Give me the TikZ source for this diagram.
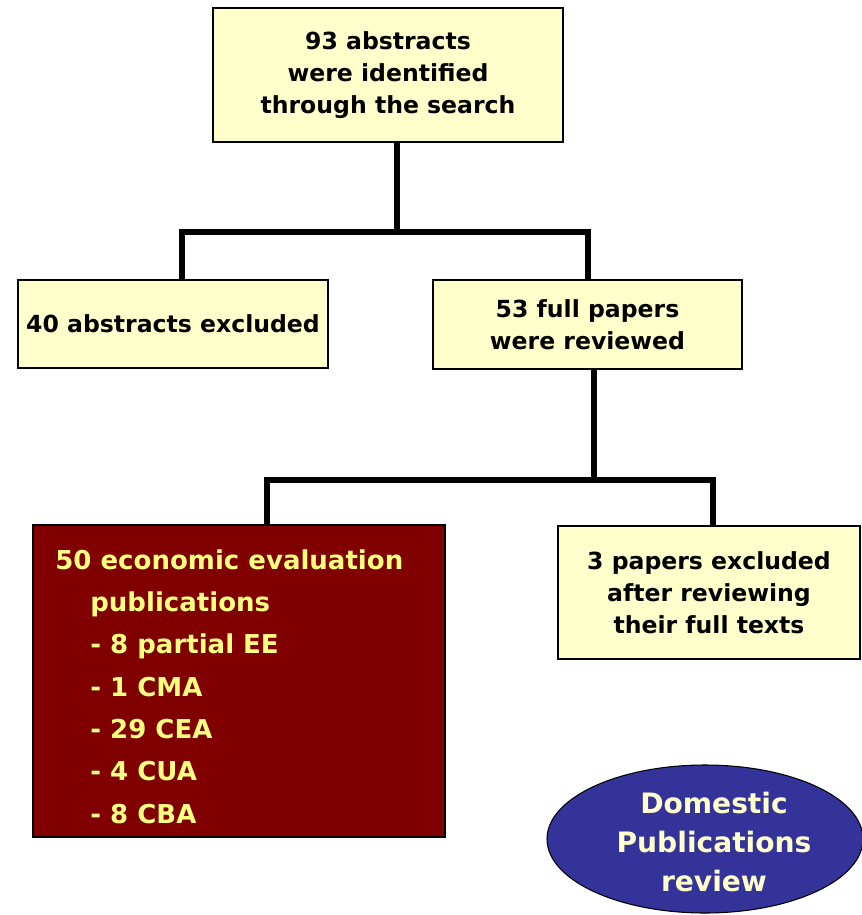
\documentclass[tikz,border=0pt]{standalone}
\usepackage{fontspec}
\setmainfont{DejaVu Sans}
\usetikzlibrary{shapes.geometric}
\definecolor{paleyel}{HTML}{FFFFCC}
\definecolor{evalred}{HTML}{800000}
\definecolor{evalyel}{HTML}{FFFF80}
\definecolor{badgeblue}{HTML}{333399}

\begin{document}
\begin{tikzpicture}[
  box/.style={draw=black,line width=0.8pt,fill=paleyel,align=center,inner sep=0pt,
    font=\fontsize{13.4}{18.2}\selectfont\bfseries},
  evalbox/.style={draw=black,line width=0.8pt,fill=evalred,inner sep=0pt},
  evaltxt/.style={align=left,inner sep=0pt,text=evalyel,
    font=\fontsize{14.8}{24.1}\selectfont\bfseries},
  badge/.style={ellipse,draw=black,line width=0.6pt,fill=badgeblue,inner sep=0pt},
  badgetxt/.style={align=center,inner sep=0pt,text=paleyel,
    font=\fontsize{16}{22}\selectfont\bfseries},
  conn/.style={draw=black,line width=3.4pt},
]
\useasboundingbox (0,0) rectangle (17.24,-18.30);

% boxes
\node[box,minimum width=7.00cm,minimum height=2.68cm] (search) at (7.76,-1.50)
  {93 abstracts\\were identified\\through the search};
\node[box,minimum width=6.20cm,minimum height=1.76cm] (absexcl) at (3.46,-6.48)
  {40 abstracts excluded};
\node[box,minimum width=6.18cm,minimum height=1.78cm] (fullrev) at (11.75,-6.49)
  {53 full papers\\were reviewed};
\node[evalbox,minimum width=8.24cm,minimum height=6.24cm] (evals) at (4.78,-13.62) {};
\node[evaltxt,anchor=north west] (evalslist) at (1.10,-10.98)
  {50 economic evaluation\\\hspace*{0.7cm}publications\\\hspace*{0.7cm}- 8 partial EE\\
   \hspace*{0.7cm}- 1 CMA\\\hspace*{0.7cm}- 29 CEA\\\hspace*{0.7cm}- 4 CUA\\\hspace*{0.7cm}- 8 CBA};
\node[box,minimum width=6.04cm,minimum height=2.66cm] (ftexcl) at (14.18,-11.85)
  {3 papers excluded\\after reviewing\\their full texts};
\node[badge,minimum width=6.32cm,minimum height=2.96cm] (domestic) at (14.10,-16.78) {};
\node[badgetxt] (domestictxt) at (14.28,-16.84) {Domestic\\Publications\\review};

% first split
\coordinate (t1) at (7.94,-4.64);
\coordinate (t1l) at (3.64,-4.64);
\coordinate (t1r) at (11.76,-4.64);
\draw[conn] (search.south -| t1) -- (t1);
\draw[conn] (t1l |- absexcl.north) -- (t1l) -- (t1r) -- (t1r |- fullrev.north);

% second split
\coordinate (t2) at (11.88,-9.60);
\coordinate (t2l) at (5.34,-9.60);
\coordinate (t2r) at (14.26,-9.60);
\draw[conn] (fullrev.south -| t2) -- (t2);
\draw[conn] (t2l |- evals.north) -- (t2l) -- (t2r) -- (t2r |- ftexcl.north);
\end{tikzpicture}
\end{document}
